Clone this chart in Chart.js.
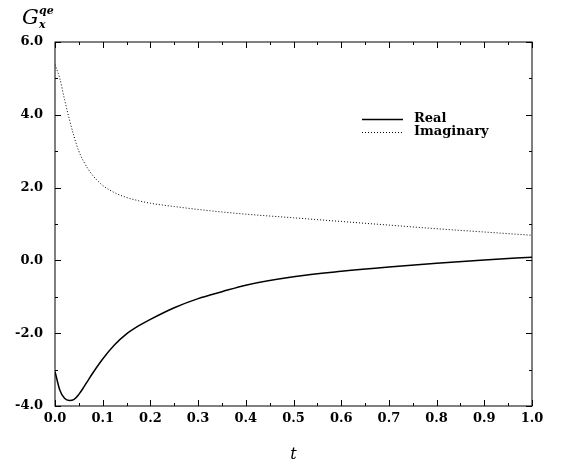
<!DOCTYPE html>
<html>
<head>
<meta charset="utf-8">
<script src="https://cdn.jsdelivr.net/npm/chart.js@4/dist/chart.umd.min.js"></script>
<style>
  html, body { margin: 0; padding: 0; background: #fff; }
  #wrap { width: 567px; height: 461px; }
</style>
</head>
<body>
<div id="wrap"><canvas id="chart" width="567" height="461"></canvas></div>
<script>
// Values
const tValues = [0, 0.01, 0.02, 0.03, 0.04, 0.05, 0.06, 0.07, 0.08, 0.1, 0.125, 0.15, 0.175, 0.2,
  0.25, 0.3, 0.35, 0.4, 0.5, 0.6, 0.7, 0.8, 0.9, 1.0];
const realValues = [-3.05, -3.56, -3.79, -3.85, -3.82, -3.68, -3.49, -3.28, -3.08, -2.71, -2.32, -2.02, -1.80, -1.62,
  -1.30, -1.05, -0.86, -0.68, -0.45, -0.30, -0.18, -0.08, 0.01, 0.09];
const imagValues = [5.38, 5.0, 4.42, 3.88, 3.40, 3.0, 2.72, 2.50, 2.32, 2.06, 1.86, 1.73, 1.64, 1.57,
  1.48, 1.40, 1.33, 1.27, 1.17, 1.07, 0.97, 0.87, 0.78, 0.69];

const xTicks = [0, 0.1, 0.2, 0.3, 0.4, 0.5, 0.6, 0.7, 0.8, 0.9, 1.0];
const yTicks = [-4, -2, 0, 2, 4, 6];

const labelFont = { family: "'DejaVu Serif', serif", size: 13, weight: "bold" };

// Inward tick marks on all four sides, plus minor ticks halfway between majors
const frameTicks = {
  id: "frameTicks",
  afterDraw(chart) {
    const { ctx, chartArea: a, scales } = chart;
    ctx.save();
    ctx.strokeStyle = "#000";
    ctx.lineWidth = 1;
    ctx.strokeRect(a.left, a.top, a.right - a.left, a.bottom - a.top);

    const mark = (vals, len, isX) => {
      vals.forEach(v => {
        ctx.beginPath();
        if (isX) {
          const px = Math.round(scales.x.getPixelForValue(v)) + 0.5;
          ctx.moveTo(px, a.bottom); ctx.lineTo(px, a.bottom - len);
          ctx.moveTo(px, a.top); ctx.lineTo(px, a.top + len);
        } else {
          const py = Math.round(scales.y.getPixelForValue(v)) + 0.5;
          ctx.moveTo(a.left, py); ctx.lineTo(a.left + len, py);
          ctx.moveTo(a.right, py); ctx.lineTo(a.right - len, py);
        }
        ctx.stroke();
      });
    };
    const mids = arr => arr.slice(1).map((v, i) => (v + arr[i]) / 2);
    mark(xTicks, 6, true);
    mark(mids(xTicks), 3, true);
    mark(yTicks, 6, false);
    mark(mids(yTicks), 3, false);
    ctx.restore();
  }
};

// Legend inside the plot and the y-axis symbol at top left
const extras = {
  id: "extras",
  afterDraw(chart) {
    const ctx = chart.ctx;
    ctx.save();
    ctx.fillStyle = "#000";
    ctx.textBaseline = "middle";
    chart.data.datasets.forEach((ds, i) => {
      const y = 119 + i * 13;
      ctx.beginPath();
      ctx.strokeStyle = "#000";
      ctx.lineWidth = ds.borderWidth;
      ctx.setLineDash(ds.borderDash || []);
      ctx.moveTo(362, y + 0.5);
      ctx.lineTo(403, y + 0.5);
      ctx.stroke();
      ctx.setLineDash([]);
      ctx.font = "bold 13px 'DejaVu Serif', serif";
      ctx.fillText(ds.label, 414, y);
    });

    ctx.textBaseline = "alphabetic";
    ctx.font = "italic 21px 'DejaVu Serif', serif";
    ctx.fillText("G", 22, 24);
    ctx.font = "italic bold 11px 'DejaVu Serif', serif";
    ctx.fillText("qe", 39, 14);
    ctx.fillText("x", 39, 28);
    ctx.restore();
  }
};

new Chart(document.getElementById("chart"), {
  type: "line",
  data: {
    datasets: [
      {
        label: "Real",
        data: tValues.map((t, i) => ({ x: t, y: realValues[i] })),
        borderColor: "#000",
        borderWidth: 1.5,
        pointRadius: 0,
        cubicInterpolationMode: "monotone",
        fill: false
      },
      {
        label: "Imaginary",
        data: tValues.map((t, i) => ({ x: t, y: imagValues[i] })),
        borderColor: "#000",
        borderWidth: 1,
        borderDash: [1, 2],
        pointRadius: 0,
        cubicInterpolationMode: "monotone",
        fill: false
      }
    ]
  },
  options: {
    responsive: false,
    animation: false,
    layout: { padding: { top: 42, right: 35, left: 0, bottom: 0 } },
    plugins: { legend: { display: false }, tooltip: { enabled: false } },
    scales: {
      x: {
        type: "linear",
        min: 0,
        max: 1,
        afterBuildTicks: s => { s.ticks = xTicks.map(v => ({ value: v })); },
        afterFit: s => { s.height = 55; },
        grid: { display: false, drawTicks: false },
        border: { display: false },
        ticks: {
          color: "#000",
          font: labelFont,
          padding: 5,
          maxRotation: 0,
          autoSkip: false,
          callback: v => Number(v).toFixed(1)
        },
        title: {
          display: true,
          text: "t",
          color: "#000",
          font: { family: "'DejaVu Serif', serif", size: 16, style: "italic", lineHeight: 1 },
          padding: { top: 0, bottom: -2 }
        }
      },
      y: {
        type: "linear",
        min: -4,
        max: 6,
        afterBuildTicks: s => { s.ticks = yTicks.map(v => ({ value: v })); },
        afterFit: s => { s.width = 55; },
        grid: { display: false, drawTicks: false },
        border: { display: false },
        ticks: {
          color: "#000",
          font: labelFont,
          padding: 12,
          autoSkip: false,
          callback: v => Number(v).toFixed(1)
        }
      }
    }
  },
  plugins: [frameTicks, extras]
});
</script>
</body>
</html>
